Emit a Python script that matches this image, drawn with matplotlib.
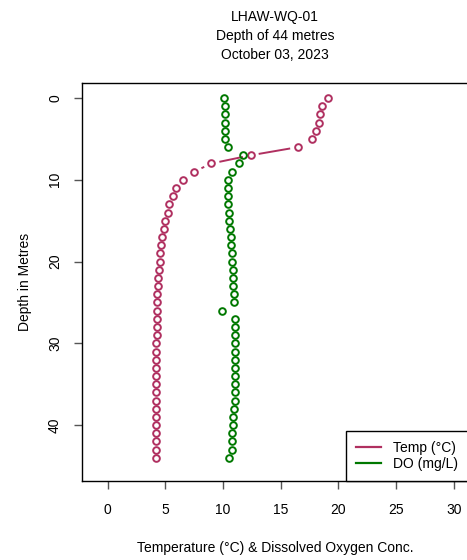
import numpy as np
import matplotlib
matplotlib.use('Agg')
import matplotlib.pyplot as plt

plt.rcParams['font.family'] = ['Liberation Sans', 'DejaVu Sans']

depth = list(range(0, 45))
temp = [19.1, 18.6, 18.4, 18.35, 18.05, 17.7, 16.5, 12.4, 9.0, 7.5,
        6.5, 5.95, 5.65, 5.35, 5.2, 5.0, 4.9, 4.75, 4.65, 4.55,
        4.5, 4.45, 4.4, 4.35, 4.3, 4.3, 4.3, 4.3, 4.25, 4.25,
        4.2, 4.2, 4.2, 4.2, 4.2, 4.2, 4.2, 4.2, 4.2, 4.2,
        4.2, 4.2, 4.2, 4.2, 4.2]
do = [10.1, 10.2, 10.2, 10.2, 10.2, 10.2, 10.4, 11.7, 11.4, 10.8,
      10.4, 10.4, 10.4, 10.4, 10.5, 10.5, 10.6, 10.65, 10.7, 10.8,
      10.8, 10.9, 10.9, 10.9, 10.95, 10.95, 9.95, 11.0, 11.05, 11.05,
      11.05, 11.05, 11.05, 11.05, 11.05, 11.05, 11.05, 11.0, 10.95, 10.9,
      10.9, 10.8, 10.8, 10.75, 10.5]
yticks = [0, 10, 20, 30, 40]
xticks = [0, 5, 10, 15, 20, 25, 30]

temp_col = '#B03060'
do_col = '#007800'

fig = plt.figure(figsize=(4.67, 5.6), dpi=100)
ax = fig.add_axes([0.175, 0.1416, 0.8277, 0.7096])
ax.set_xlim(-2.24, 31.24)
ax.set_ylim(46.8, -1.8)


def plot_b(x, y, col):
    # R style type="b": points joined by lines with a gap round each point
    ax.plot(x, y, 'o', ms=4.8, mfc='none', mec=col, mew=1.4, ls='none')
    pts = ax.transData.transform(np.column_stack([x, y]))
    inv = ax.transData.inverted()
    gap = 9.0
    for p1, p2 in zip(pts[:-1], pts[1:]):
        d = p2 - p1
        n = np.hypot(*d)
        if n > 2 * gap:
            u = d / n
            a = inv.transform(p1 + u * gap)
            b = inv.transform(p2 - u * gap)
            ax.plot([a[0], b[0]], [a[1], b[1]], color=col, lw=1.4)


plot_b(temp, depth, temp_col)
plot_b(do, depth, do_col)

ax.set_xticks(xticks)
ax.set_yticks(yticks)
ax.set_yticklabels([])
ax.tick_params(axis='both', direction='out', length=6, width=1, color='#555555',
               labelsize=10)
ax.tick_params(axis='x', pad=10)
# y tick labels, rotated like R's las=0
for t in yticks:
    ax.text(-0.069, t, str(t), transform=ax.get_yaxis_transform(), rotation=90,
            ha='center', va='center', fontsize=10)
for s in ax.spines.values():
    s.set_linewidth(1.0)

h1, = ax.plot([], [], color=temp_col, lw=1.6)
h2, = ax.plot([], [], color=do_col, lw=1.6)
leg = ax.legend([h1, h2], ['Temp (°C)', 'DO (mg/L)'], loc='lower right',
                borderaxespad=0, fancybox=False, framealpha=1, edgecolor='black',
                fontsize=10, handlelength=1.8, handletextpad=0.9,
                labelspacing=0.12, borderpad=0.72)
leg.get_frame().set_linewidth(1.0)

fig.text(275 / 467, 1 - 17 / 560, 'LHAW-WQ-01', ha='center', va='center', fontsize=10)
fig.text(275 / 467, 1 - 36 / 560, 'Depth of 44 metres', ha='center', va='center', fontsize=10)
fig.text(275 / 467, 1 - 55 / 560, 'October 03, 2023', ha='center', va='center', fontsize=10)
fig.text(275 / 467, 1 - 548 / 560, 'Temperature (°C) & Dissolved Oxygen Conc.',
         ha='center', va='center', fontsize=10)
fig.text(25 / 467, 1 - 282 / 560, 'Depth in Metres', ha='center', va='center',
         rotation=90, fontsize=10)

fig.savefig('out.png', dpi=100)
